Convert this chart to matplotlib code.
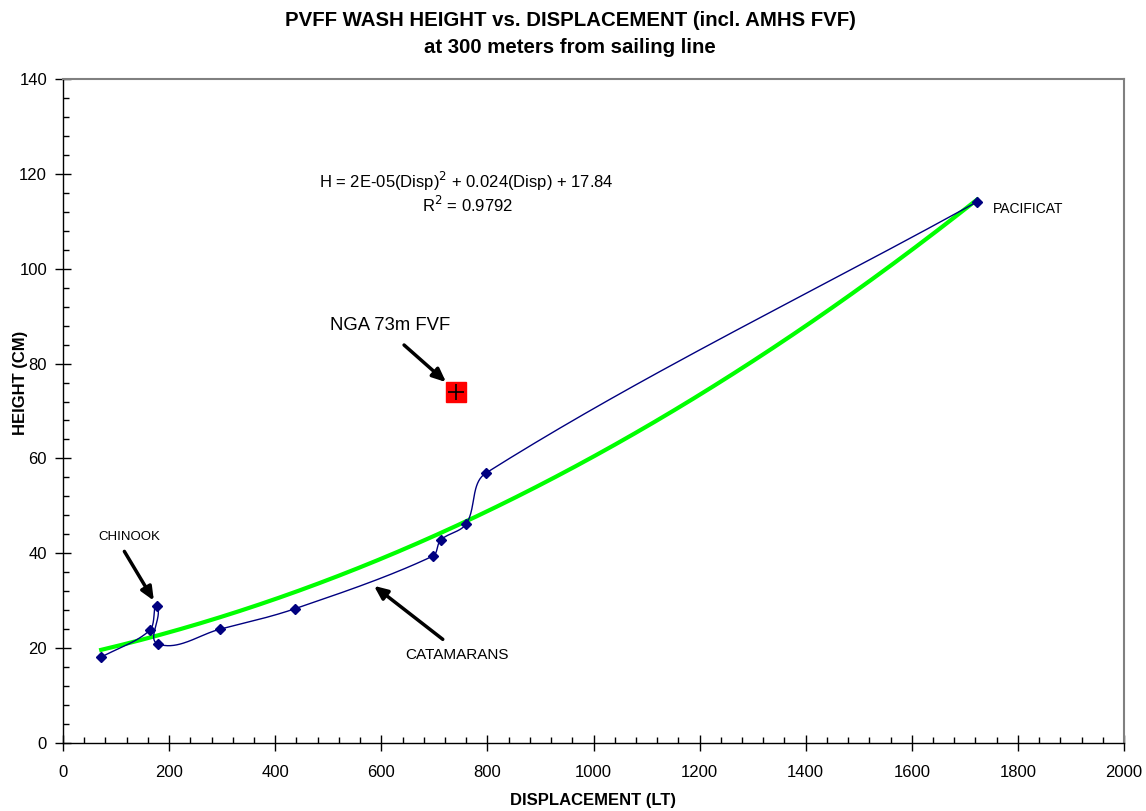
import numpy as np
import matplotlib
matplotlib.use("Agg")
import matplotlib.pyplot as plt
from matplotlib.ticker import MultipleLocator

plt.rcParams['font.family'] = ['Liberation Sans', 'DejaVu Sans']

# Data
displacement = [72, 164, 177, 179, 296, 437, 697, 712, 760, 797, 1723]
height = [18.1, 23.8, 28.9, 20.9, 24.0, 28.3, 39.4, 42.8, 46.2, 56.9, 114.1]
nga_disp = [741]
nga_height = [74.0]

x_ticks = [0, 200, 400, 600, 800, 1000, 1200, 1400, 1600, 1800, 2000]
y_ticks = [0, 20, 40, 60, 80, 100, 120, 140]


def smooth_curve(ax, xs, ys, n=40):
    """Excel-like smoothed line: cubic Bezier segments computed in display space,
    with tangent lengths scaled to each segment's chord length."""
    P = ax.transData.transform(np.column_stack([xs, ys]).astype(float))
    m = len(P)
    tang = []
    for i in range(m):
        a = P[max(i - 1, 0)]
        b = P[min(i + 1, m - 1)]
        d = b - a
        nrm = np.hypot(*d)
        tang.append(d / nrm if nrm > 0 else np.zeros(2))
    out = []
    t = np.linspace(0, 1, n)[:, None]
    for i in range(m - 1):
        p1, p2 = P[i], P[i + 1]
        L = np.hypot(*(p2 - p1))
        c1 = p1 + tang[i] * L / 3.0
        c2 = p2 - tang[i + 1] * L / 3.0
        seg = ((1 - t) ** 3) * p1 + 3 * ((1 - t) ** 2) * t * c1 + 3 * (1 - t) * t ** 2 * c2 + t ** 3 * p2
        out.append(seg if i == 0 else seg[1:])
    S = ax.transData.inverted().transform(np.vstack(out))
    return S[:, 0], S[:, 1]


fig = plt.figure(figsize=(11.46, 8.11), dpi=100)
ax = fig.add_axes([63 / 1146, 1 - 743 / 811, (1124 - 63) / 1146, (743 - 79) / 811])
ax.set_xlim(x_ticks[0], x_ticks[-1])
ax.set_ylim(y_ticks[0], y_ticks[-1])

# Polynomial trendline
coef = np.polyfit(displacement, height, 2)
tx = np.linspace(min(displacement), max(displacement), 400)
ax.plot(tx, np.polyval(coef, tx), color='#00FF00', lw=3, zorder=2)

sx, sy = smooth_curve(ax, displacement, height)
ax.plot(sx, sy, color='#000080', lw=1, zorder=3)
ax.plot(displacement, height, ls='none', marker='D', ms=5.5, color='#000080', zorder=4)

ax.plot(nga_disp, nga_height, ls='none', marker='s', ms=14, mfc='#FF0000', mec='#FF0000', zorder=5)
ax.plot(nga_disp, nga_height, ls='none', marker='+', ms=12, mew=1.2, color='black', zorder=6)

ax.set_xticks(x_ticks)
ax.set_yticks(y_ticks)
ax.xaxis.set_minor_locator(MultipleLocator(40))
ax.yaxis.set_minor_locator(MultipleLocator(4))
ax.tick_params(which='major', direction='inout', length=11, width=1, labelsize=12)
ax.tick_params(which='minor', direction='in', length=4, width=1)
ax.tick_params(axis='x', which='major', pad=10)
ax.tick_params(axis='y', which='major', pad=6)
for s in ['top', 'right']:
    ax.spines[s].set_color('#808080')
    ax.spines[s].set_linewidth(1.5)
for s in ['left', 'bottom']:
    ax.spines[s].set_color('black')
    ax.spines[s].set_linewidth(1)

ax.set_xlabel('DISPLACEMENT (LT)', fontsize=12, fontweight='bold')
ax.set_ylabel('HEIGHT (CM)', fontsize=12, fontweight='bold')
ax.xaxis.set_label_coords(0.5, -0.075)
ax.yaxis.set_label_coords(-0.033, 0.542)

fig.text(570 / 1146, 1 - 34 / 811, 'PVFF WASH HEIGHT vs. DISPLACEMENT (incl. AMHS FVF)\nat 300 meters from sailing line',
         ha='center', va='center', fontsize=14.7, fontweight='bold', linespacing=1.5)

ax.text(760, 118.5, r'H = 2E-05(Disp)$^2$ + 0.024(Disp) + 17.84', ha='center', va='center', fontsize=12)
ax.text(763, 113.4, r'R$^2$ = 0.9792', ha='center', va='center', fontsize=12)

ax.text(1752, 112.6, 'PACIFICAT', fontsize=10, ha='left', va='center')
ax.text(66, 43.4, 'CHINOOK', fontsize=9.5, ha='left', va='center')
ax.annotate('', xy=(174, 29.5), xytext=(113, 40.9),
            arrowprops=dict(arrowstyle='-|>,head_length=0.8,head_width=0.35', color='black', lw=2.5))
ax.text(743, 18.55, 'CATAMARANS', fontsize=11, ha='center', va='center')
ax.annotate('', xy=(582, 33.5), xytext=(720, 21.5),
            arrowprops=dict(arrowstyle='-|>,head_length=0.8,head_width=0.35', color='black', lw=2.5))
ax.text(616, 88.1, 'NGA 73m FVF', fontsize=13.3, ha='center', va='center')
ax.annotate('', xy=(726, 75.7), xytext=(639, 84.3),
            arrowprops=dict(arrowstyle='-|>,head_length=0.8,head_width=0.35', color='black', lw=2.5))

fig.savefig('out.png', dpi=100)
